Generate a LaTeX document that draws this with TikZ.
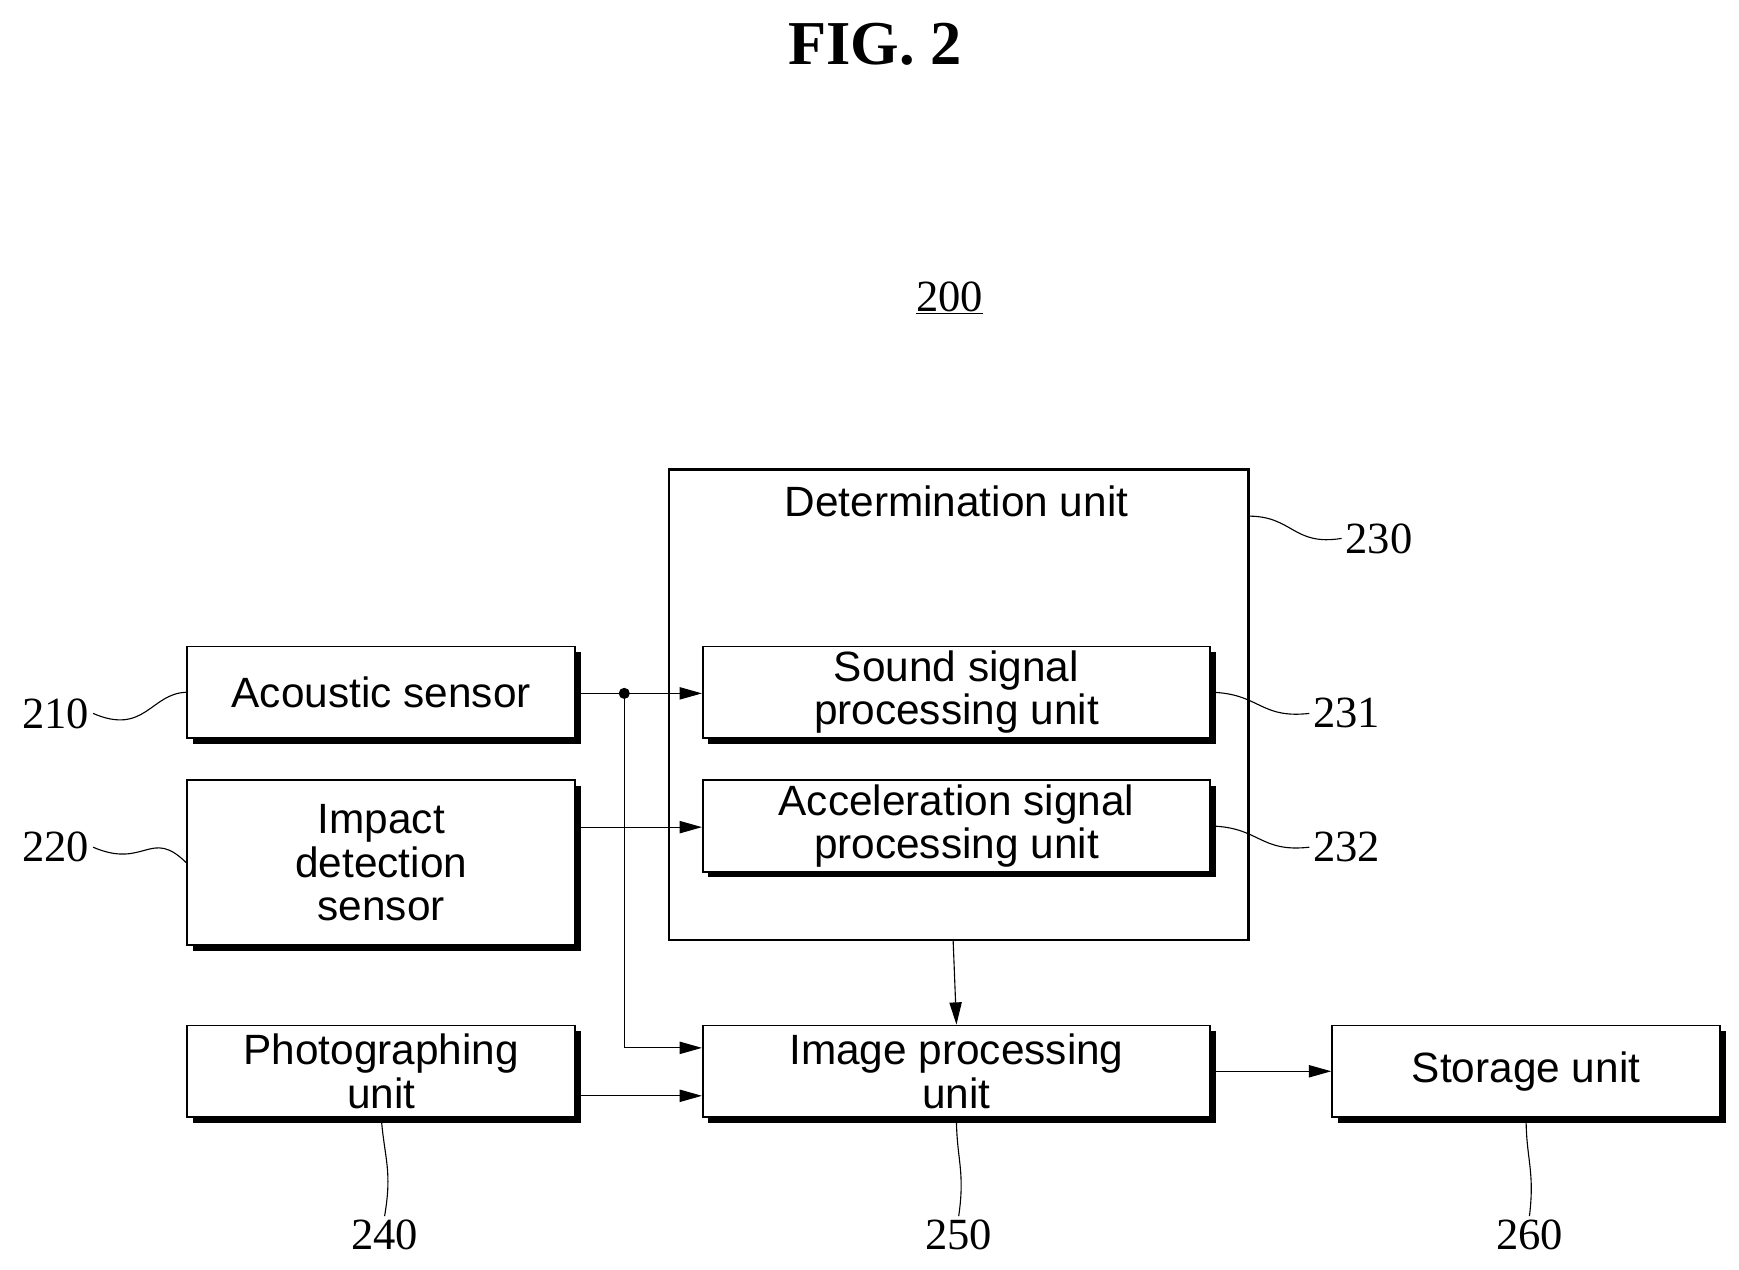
\documentclass[tikz,border=0pt]{standalone}
\usepackage{fontspec}
\setsansfont{Liberation Sans}
\setmainfont{Liberation Serif}
\usetikzlibrary{arrows.meta}
\begin{document}
\begin{tikzpicture}[x=1pt,y=-1pt,
  box/.style={draw,line width=1.6pt,fill=white,inner sep=0pt,align=center,
    font=\sffamily\fontsize{38}{39}\selectfont,
    preaction={fill=black,transform canvas={xshift=5pt,yshift=-5pt}}},
  arr/.style={line width=1pt,-{Triangle[length=20pt,width=11pt]}},
  lbl/.style={font=\rmfamily\fontsize{40}{40}\selectfont},
  lead/.style={line width=1pt}]
\useasboundingbox (0,0) rectangle (1560,1139);
\node[font=\rmfamily\bfseries\fontsize{56}{56}\selectfont] (fig) at (785,40) {FIG. 2};
\node[font=\rmfamily\fontsize{40}{40}\selectfont] (t200) at (852,267) {\underline{200}};
% big box
\draw[line width=2.2pt] (600,421) rectangle (1120,843);
\coordinate (detB) at (855,843);
\coordinate (detC) at (1120,463);
\node[font=\sffamily\fontsize{38}{38}\selectfont] (det) at (858,450) {Determination unit};
\node[box,minimum width=348pt,minimum height=82pt] (ac) at (342,621) {Acoustic sensor};
\node[box,minimum width=348pt,minimum height=148pt] (im) at (342,774) {Impact\\detection\\sensor};
\node[box,minimum width=348pt,minimum height=82pt] (ph) at (342,961) {Photographing\\unit};
\node[box,minimum width=455pt,minimum height=82pt] (so) at (858,621) {Sound signal\\processing unit};
\node[box,minimum width=455pt,minimum height=82pt] (acc) at (858,741) {Acceleration signal\\processing unit};
\node[box,minimum width=455pt,minimum height=82pt] (ip) at (858,961) {Image processing\\unit};
\node[box,minimum width=348pt,minimum height=82pt] (st) at (1369,961) {Storage unit};
% connectors
\coordinate (dot) at (560,622);
\draw[arr] (ac.east |- dot) -- (so.west |- dot);
\fill (dot) circle (5pt);
\draw[arr] (dot) -- (560,940) -- (ip.west |- 0,940);
\draw[arr] (im.east |- 0,742) -- (acc.west |- 0,742);
\draw[arr] (ph.east |- 0,983) -- (ip.west |- 0,983);
\draw[arr] (detB) -- (ip.north);
\draw[arr] (ip.east) -- (st.west);
% labels
\node[lbl] (l210) at (50,640) {210};
\node[lbl] (l220) at (50,760) {220};
\node[lbl] (l230) at (1237,483) {230};
\node[lbl] (l231) at (1208,640) {231};
\node[lbl] (l232) at (1208,760) {232};
\node[lbl] (l240) at (345,1108) {240};
\node[lbl] (l250) at (860,1108) {250};
\node[lbl] (l260) at (1372,1108) {260};
\draw[lead] (l210.east) .. controls (130,660) and (135,622) .. (ac.west);
\draw[lead] (l220.east) .. controls (130,780) and (135,742) .. (im.west);
\draw[lead] (detC) .. controls (1160,463) and (1160,490) .. (l230.west);
\draw[lead] (so.east) .. controls (1130,622) and (1130,645) .. (l231.west);
\draw[lead] (acc.east) .. controls (1130,742) and (1130,765) .. (l232.west);
\draw[lead] (ph.south) .. controls (345,1040) and (352,1050) .. (l240.north);
\draw[lead] (ip.south) .. controls (858,1040) and (866,1050) .. (l250.north);
\draw[lead] (st.south) .. controls (1369,1040) and (1377,1050) .. (l260.north);
\end{tikzpicture}
\end{document}
